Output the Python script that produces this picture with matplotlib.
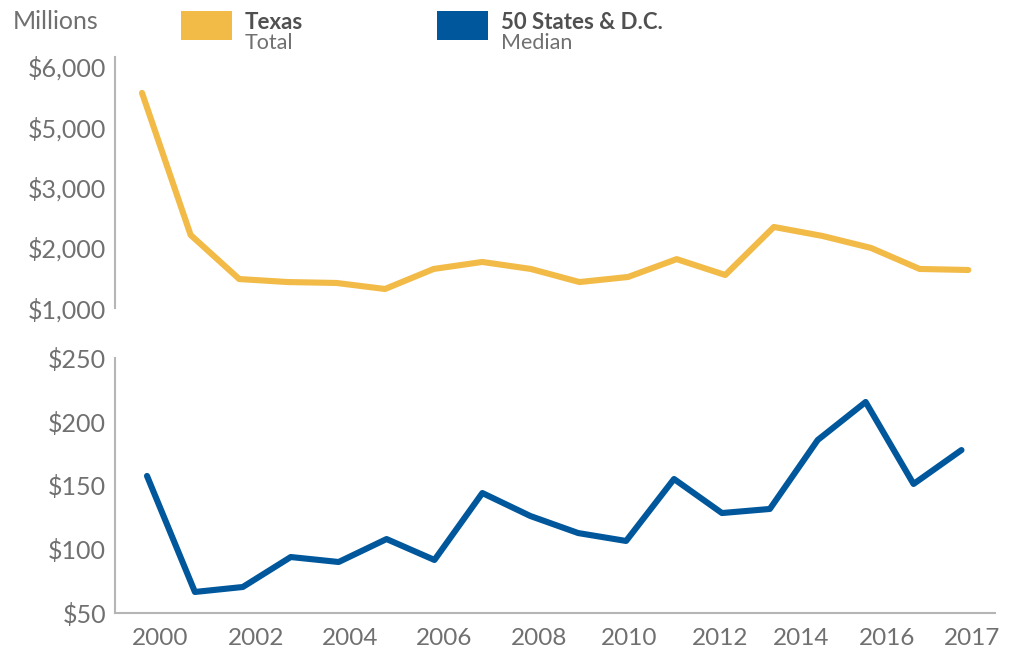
import matplotlib
matplotlib.use("Agg")
import matplotlib.pyplot as plt
import numpy as np
from matplotlib.patches import Rectangle

years = list(range(2000, 2018))

# Texas total, $ millions
texas_total = [5565, 2210, 1480, 1430, 1415, 1315, 1647, 1763, 1647, 1430,
               1514, 1810, 1547, 2343, 2194, 1995, 1647, 1630]

# 50 States & D.C. median, $ millions
states_median = [157.5, 66.5, 70.4, 93.9, 90.0, 108.0, 91.6, 144.1, 126.1, 112.7,
                 106.5, 155.1, 128.4, 131.6, 185.7, 215.5, 151.2, 177.8]

top_ticks = [1000, 2000, 3000, 5000, 6000]
bottom_ticks = [50, 100, 150, 200, 250]
year_labels = ["2000", "2002", "2004", "2006", "2008", "2010", "2012", "2014", "2016", "2017"]

YELLOW = "#F2BA47"
BLUE = "#00579B"
GREY_TXT = "#707070"
DARK_TXT = "#505050"
SPINE = "#b5b5b5"

plt.rcParams["font.family"] = ["Lato", "DejaVu Sans"]

W, H = 1017, 653
fig = plt.figure(figsize=(W / 100, H / 100), dpi=100)


def fx(px):
    return px / W


def fy(py):
    return 1 - py / H


# top panel uses an uneven value axis: 1000, 2000, 3000, 5000, 6000 equally spaced
brk_vals = [0, 1000, 2000, 3000, 5000, 6000, 7000]
brk_pos = [-1, 0, 1, 2, 3, 4, 5]


def fwd(v):
    return np.interp(v, brk_vals, brk_pos)


def inv(p):
    return np.interp(p, brk_pos, brk_vals)


ax_top = fig.add_axes([fx(115), fy(308), fx(995) - fx(115), fy(57) - fy(308)])
ax_bot = fig.add_axes([fx(115), fy(613), fx(995) - fx(115), fy(358) - fy(613)])

ax_top.plot(years, texas_total, color=YELLOW, lw=4.4, solid_capstyle="round")
ax_top.set_yscale("function", functions=(fwd, inv))
ax_top.set_ylim(1000, 6160)
ax_top.set_xlim(1999.444, 2017.55)
ax_top.set_yticks(top_ticks, [f"${v:,}" for v in top_ticks])
ax_top.set_xticks([])

ax_bot.plot(years, states_median, color=BLUE, lw=4.4, solid_capstyle="round")
ax_bot.set_ylim(50, 250)
ax_bot.set_xlim(1999.332, 2017.70)
ax_bot.set_yticks(bottom_ticks, [f"${v}" for v in bottom_ticks])
# labels are spread evenly across the width, not centred on the points
label_pos = [2000.27, 2002.28, 2004.24, 2006.20, 2008.18, 2010.06, 2011.96, 2013.65, 2015.45, 2017.22]
ax_bot.set_xticks(label_pos, year_labels)

for ax in (ax_top, ax_bot):
    ax.spines[["top", "right"]].set_visible(False)
    ax.spines["left"].set_color(SPINE)
    ax.spines["left"].set_linewidth(1.5)
    ax.tick_params(axis="y", length=0, pad=6.5, labelsize=18, labelcolor=GREY_TXT)
    ax.tick_params(axis="x", length=0, pad=11, labelsize=17.5, labelcolor=GREY_TXT)
ax_top.spines["bottom"].set_visible(False)
ax_bot.spines["bottom"].set_color(SPINE)
ax_bot.spines["bottom"].set_linewidth(1.5)

# header / legend
fig.text(fx(13), fy(29), "Millions", fontsize=18, color=GREY_TXT, va="baseline")
legend = [(181, YELLOW, "Texas", "Total"), (437, BLUE, "50 States & D.C.", "Median")]
for x0, col, name, sub in legend:
    fig.add_artist(Rectangle((fx(x0), fy(40)), fx(51), fy(11) - fy(40),
                             transform=fig.transFigure, color=col, lw=0))
    fig.text(fx(x0 + 64), fy(29), name, fontsize=16, fontweight="bold",
             color=DARK_TXT, va="baseline")
    fig.text(fx(x0 + 64), fy(49), sub, fontsize=15.5, color=GREY_TXT, va="baseline")

fig.savefig("out.png", dpi=100)
